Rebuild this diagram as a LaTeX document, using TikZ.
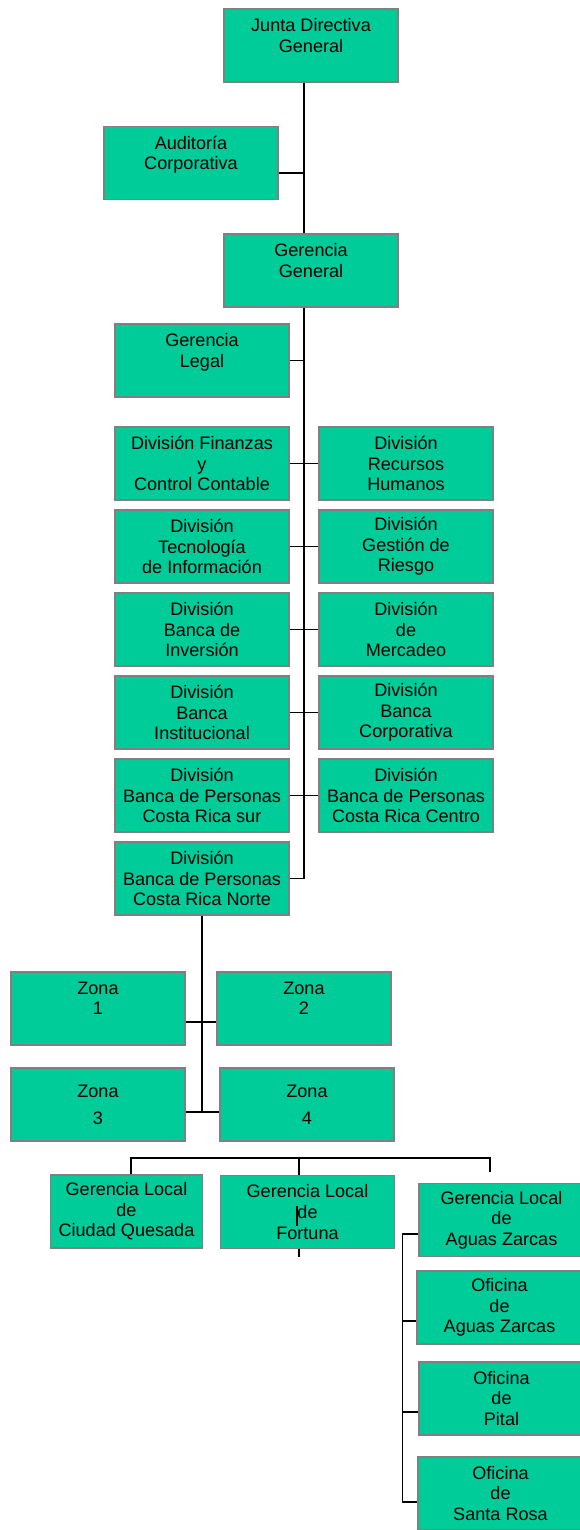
\documentclass[tikz,border=0pt]{standalone}
\usepackage{fontspec}
\setmainfont{Liberation Sans}
\usepackage{tikz}
\definecolor{boxgreen}{RGB}{0,204,153}
\definecolor{boxline}{RGB}{128,128,128}

\begin{document}
\begin{tikzpicture}[x=0.02cm, y=-0.02cm, line width=0.6pt,
  every node/.style={rectangle, draw=boxline, fill=boxgreen, inner sep=0pt, align=center, minimum width=3.48cm, minimum height=1.46cm, font=\fontsize{10.3}{11.7}\selectfont},
  narrow/.style={minimum width=3.3cm}]
\clip (0,0) rectangle (580,1530);

\node (JDG) at (311,45.5) {Junta Directiva\\General\\~};
\node (AUD) at (191,163) {Auditoría\\Corporativa\\~};
\node (GG) at (311,270.5) {Gerencia\\General\\~};
\node (GL) at (202,360.5) {Gerencia\\Legal\\~};

\node (DFC) at (202,463.5) {División Finanzas\\y\\Control Contable};
\node (DTI) at (202,546.5) {División\\Tecnología\\de Información};
\node (DBI) at (202,629.5) {División\\Banca de\\Inversión};
\node (DIN) at (202,712.5) {División\\Banca\\Institucional};
\node (DSUR) at (202,795.5) {División\\Banca de Personas\\Costa Rica sur};
\node (DNOR) at (202,878.5) {División\\Banca de Personas\\Costa Rica Norte};
\node (DRH) at (406,463.5) {División\\Recursos\\Humanos};
\node (DGR) at (406,546.5) {División\\Gestión de\\Riesgo};
\node (DME) at (406,629.5) {División\\de\\Mercadeo};
\node (DCO) at (406,712.5) {División\\Banca\\Corporativa};
\node (DCEN) at (406,795.5) {División\\Banca de Personas\\Costa Rica Centro};

\node (Z1) at (98,1008.5) {Zona\\1\\~};
\node (Z2) at (304,1008.5) {Zona\\2\\~};
\node (Z3) at (98,1104.5) {Zona\\[3.7pt]3};
\node (Z4) at (307,1104.5) {Zona\\[3.7pt]4};

\node[minimum width=3.04cm] (GLCQ) at (126.5,1211.5) {Gerencia Local\\de\\Ciudad Quesada};
\node (GLF) at (307.5,1212) {Gerencia Local\\de\\Fortuna};
\node[narrow] (GLAZ) at (501.5,1220) {Gerencia Local\\de\\Aguas Zarcas};
\node[narrow] (OAZ) at (499.5,1307.5) {Oficina\\de\\Aguas Zarcas};
\node[narrow] (OPI) at (501.5,1398.5) {Oficina\\de\\Pital};
\node[narrow] (OSR) at (500.5,1493.5) {Oficina\\de\\Santa Rosa};

% main line
\coordinate (T) at (304,0);
\draw (T |- JDG.south) -- (T |- GG.north);
\draw (T |- GG.south) -- (T |- DNOR.east);
\draw ([yshift=-0.2cm]AUD.east) -- ++(26,0);
\draw (GL.east) -- (T |- GL.east);

\draw (DFC.east) -- (DRH.west);
\draw (DTI.east) -- (DGR.west);
\draw (DBI.east) -- (DME.west);
\draw (DIN.east) -- (DCO.west);
\draw (DSUR.east) -- (DCEN.west);
\draw (DNOR.east) -- (T |- DNOR.east);

% zonas
\coordinate (ZJ) at (202,1112);
\draw (DNOR.south) -- (ZJ);
\draw ([yshift=-0.27cm]Z1.east) -- ([yshift=-0.27cm]Z2.west);
\draw ([yshift=-0.15cm]Z3.east) -- ([yshift=-0.15cm]Z4.west);

% gerencias locales
\coordinate (BL) at (131,1158);
\coordinate (BM) at (299,1158);
\coordinate (BR) at (490,1158);
\draw (BL |- GLCQ.north) -- (BL) -- (BR) -- ++(0,14);
\draw (BM) -- (BM |- GLF.north);
\draw (BM |- GLF.south) -- ++(0,8);
\draw (297,1206) -- (297,1226);

% oficinas
\draw ([yshift=-0.28cm]GLAZ.west) -- ++(-16,0) |- ([yshift=-0.17cm]OSR.west);
\draw ([yshift=-0.27cm]OAZ.west) -- ++(-14,0);
\draw ([yshift=-0.27cm]OPI.west) -- ++(-16,0);

\end{tikzpicture}
\end{document}
